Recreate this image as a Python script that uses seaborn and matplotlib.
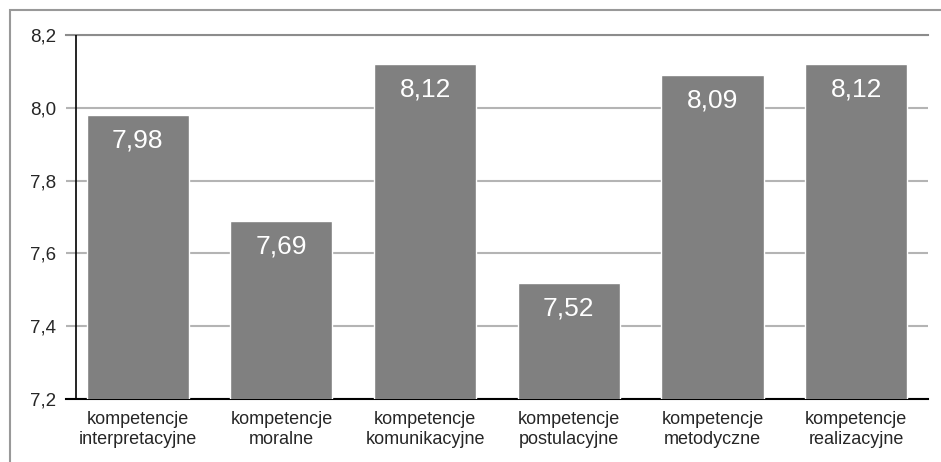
import seaborn as sns
import matplotlib.pyplot as plt
import pandas as pd
from matplotlib.ticker import FuncFormatter
from matplotlib.patches import Rectangle

categories = ["kompetencje\ninterpretacyjne", "kompetencje\nmoralne", "kompetencje\nkomunikacyjne",
              "kompetencje\npostulacyjne", "kompetencje\nmetodyczne", "kompetencje\nrealizacyjne"]
values = [7.98, 7.69, 8.12, 7.52, 8.09, 8.12]
y_ticks = [7.2, 7.4, 7.6, 7.8, 8.0, 8.2]

df = pd.DataFrame({"kategoria": categories, "wartosc": values})

sns.set_style("white")
plt.rcParams["font.family"] = ["Liberation Sans", "DejaVu Sans"]

fig = plt.figure(figsize=(9.41, 4.62), dpi=100)
ax = fig.add_axes([0.0701, 0.1364, 0.9161, 0.7878])

sns.barplot(x="kategoria", y="wartosc", data=df, color="#808080", saturation=1,
            width=0.71, ax=ax, zorder=3)

ax.set_ylim(7.2, 8.2)
ax.set_xlim(-0.5, 5.5)
ax.set_yticks(y_ticks)
ax.yaxis.set_major_formatter(FuncFormatter(lambda v, p: f"{v:.1f}".replace(".", ",")))
ax.grid(axis="y", color="#b4b4b4", linewidth=1.5, zorder=0)
ax.grid(axis="x", visible=False)
ax.tick_params(axis="y", length=0, pad=7, labelsize=13.5)
ax.tick_params(axis="x", length=0, pad=9, labelsize=13)
for lbl in ax.get_xticklabels():
    lbl.set_linespacing(1.22)
ax.set_xlabel("")
ax.set_ylabel("")

ax.spines["left"].set_visible(False)
ax.spines["right"].set_visible(False)
ax.spines["top"].set_color("#8c8c8c")
ax.spines["top"].set_linewidth(1.5)
ax.spines["bottom"].set_color("black")
ax.spines["bottom"].set_linewidth(1.5)
ax.axvline(-0.43, color="black", linewidth=1.2, zorder=4)

for i, v in enumerate(values):
    ax.annotate(f"{v:.2f}".replace(".", ","), (i, v), xytext=(0, -18.5), textcoords="offset points",
                ha="center", va="center", color="white", fontsize=19, zorder=5)

fig.patches.append(Rectangle((10 / 941, -0.1), 1.1, 1.1 - 10 / 462, transform=fig.transFigure,
                             fill=False, edgecolor="#999999", linewidth=1.5))

plt.savefig("out.png", dpi=100)
